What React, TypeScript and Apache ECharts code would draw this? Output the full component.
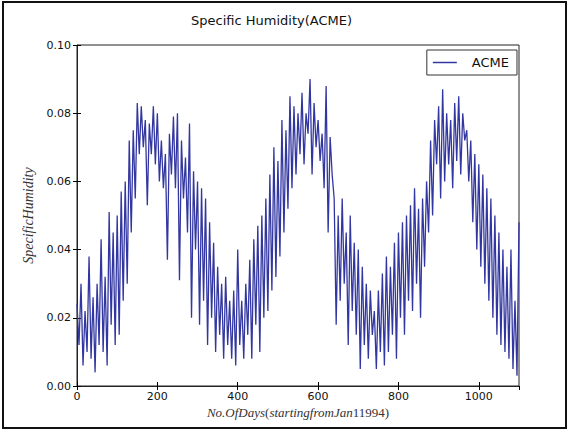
import React, { useEffect, useRef } from "react";
import * as echarts from "echarts";

const TITLE = "Specific Humidity(ACME)";
const SERIES_NAME = "ACME";
const DAY_STEP = 5;
const X_TICKS = [0, 200, 400, 600, 800, 1000];
const Y_TICKS = [0, 0.02, 0.04, 0.06, 0.08, 0.1];

// Specific humidity, one value every 5 days (day 0 .. 1100)
const humidity = [
  // 0-95
  0.024, 0.012, 0.030, 0.006, 0.022, 0.010, 0.038, 0.008, 0.026, 0.004,
  0.030, 0.012, 0.043, 0.010, 0.032, 0.006, 0.051, 0.018, 0.045, 0.012,
  // 100-195
  0.050, 0.015, 0.057, 0.025, 0.060, 0.030, 0.072, 0.045, 0.075, 0.055,
  0.083, 0.068, 0.082, 0.070, 0.078, 0.053, 0.077, 0.068, 0.082, 0.065,
  // 200-295
  0.080, 0.060, 0.072, 0.058, 0.068, 0.037, 0.074, 0.062, 0.079, 0.058,
  0.080, 0.031, 0.072, 0.055, 0.067, 0.045, 0.077, 0.020, 0.063, 0.040,
  // 300-395
  0.060, 0.018, 0.058, 0.025, 0.055, 0.012, 0.048, 0.020, 0.042, 0.010,
  0.035, 0.015, 0.030, 0.008, 0.032, 0.012, 0.025, 0.008, 0.028, 0.006,
  // 400-495
  0.040, 0.012, 0.025, 0.008, 0.030, 0.015, 0.037, 0.008, 0.043, 0.018,
  0.047, 0.010, 0.050, 0.020, 0.055, 0.022, 0.062, 0.028, 0.070, 0.032,
  // 500-595
  0.066, 0.038, 0.078, 0.045, 0.075, 0.052, 0.085, 0.058, 0.082, 0.062,
  0.080, 0.068, 0.086, 0.065, 0.080, 0.074, 0.090, 0.062, 0.083, 0.070,
  // 600-695
  0.078, 0.066, 0.074, 0.058, 0.088, 0.045, 0.073, 0.062, 0.055, 0.018,
  0.050, 0.025, 0.055, 0.030, 0.045, 0.012, 0.050, 0.022, 0.042, 0.015,
  // 700-795
  0.040, 0.005, 0.035, 0.012, 0.030, 0.008, 0.028, 0.015, 0.022, 0.005,
  0.028, 0.010, 0.033, 0.006, 0.038, 0.010, 0.035, 0.015, 0.042, 0.008,
  // 800-895
  0.045, 0.020, 0.048, 0.015, 0.050, 0.025, 0.053, 0.022, 0.058, 0.030,
  0.052, 0.020, 0.055, 0.035, 0.060, 0.045, 0.072, 0.050, 0.078, 0.065,
  // 900-995
  0.082, 0.055, 0.087, 0.060, 0.080, 0.065, 0.078, 0.058, 0.083, 0.066,
  0.085, 0.062, 0.080, 0.072, 0.075, 0.060, 0.072, 0.048, 0.068, 0.040,
  // 1000-1100
  0.065, 0.035, 0.062, 0.030, 0.058, 0.025, 0.055, 0.020, 0.050, 0.015,
  0.045, 0.012, 0.040, 0.010, 0.035, 0.008, 0.040, 0.005, 0.025, 0.003,
  0.048,
];

const LINE_COLOR = "#3236a0";

export default function App() {
  const ref = useRef<HTMLDivElement>(null);
  useEffect(() => {
    if (!ref.current) return;
    const chart = echarts.init(ref.current, undefined, { renderer: "svg" });
    const data = humidity.map((v, i) => [i * DAY_STEP, v]);
    const tickStyle = { show: true, inside: true, length: 4, lineStyle: { color: "#000", width: 1 } };
    const labelFont = { fontFamily: "DejaVu Sans", fontSize: 11, color: "#111" };
    chart.setOption({
      animation: false,
      backgroundColor: "#fff",
      title: {
        text: TITLE,
        left: 186,
        top: 9,
        textStyle: { fontFamily: "DejaVu Sans", fontSize: 13, fontWeight: "normal", color: "#111" },
      },
      legend: {
        data: [{ name: SERIES_NAME, icon: "rect" }],
        right: 53,
        top: 50,
        itemWidth: 24,
        itemHeight: 1.5,
        itemGap: 10,
        padding: [6, 8, 6, 6],
        borderColor: "#333",
        borderWidth: 1,
        borderRadius: 0,
        textStyle: { fontFamily: "DejaVu Sans", fontSize: 13, color: "#111", padding: [0, 0, 0, 10] },
      },
      grid: {
        left: 77,
        right: 51,
        top: 45,
        bottom: 47,
        show: true,
        borderColor: "#222",
        borderWidth: 1,
        backgroundColor: "#fff",
      },
      xAxis: [
        {
          type: "value",
          min: 0,
          max: 1100,
          interval: 200,
          position: "bottom",
          splitLine: { show: false },
          axisLine: { show: true, lineStyle: { color: "#222" } },
          axisTick: tickStyle,
          axisLabel: {
            ...labelFont,
            margin: 5,
            showMaxLabel: false,
            formatter: (v: number) => (X_TICKS.includes(v) ? String(v) : ""),
          },
        },
        {
          type: "value",
          min: 0,
          max: 1100,
          interval: 200,
          position: "top",
          splitLine: { show: false },
          axisLine: { show: false },
          axisTick: tickStyle,
          axisLabel: { show: false },
        },
      ],
      yAxis: [
        {
          type: "value",
          min: 0,
          max: 0.1,
          interval: 0.02,
          position: "left",
          splitLine: { show: false },
          axisLine: { show: true, lineStyle: { color: "#222" } },
          axisTick: tickStyle,
          axisLabel: {
            ...labelFont,
            margin: 6,
            formatter: (v: number) => (Y_TICKS.some((t) => Math.abs(t - v) < 1e-9) ? v.toFixed(2) : ""),
          },
          name: "SpecificHumidity",
          nameLocation: "middle",
          nameGap: 37,
          nameTextStyle: { fontFamily: "Liberation Serif", fontStyle: "italic", fontSize: 14, color: "#333" },
        },
        {
          type: "value",
          min: 0,
          max: 0.1,
          interval: 0.02,
          position: "right",
          splitLine: { show: false },
          axisLine: { show: false },
          axisTick: tickStyle,
          axisLabel: { show: false },
        },
      ],
      graphic: [
        {
          type: "rect",
          shape: { x: 3, y: 2, width: 563, height: 426 },
          style: { fill: "none", stroke: "#111", lineWidth: 2 },
          silent: true,
        },
        {
          type: "text",
          x: 298,
          y: 412,
          style: {
            text: "{it|No.OfDays}{up|(}{it|startingfromJan}{up|11994)}",
            align: "center",
            verticalAlign: "middle",
            rich: {
              it: { fontFamily: "Liberation Serif", fontStyle: "italic", fontSize: 13, fill: "#333" },
              up: { fontFamily: "Liberation Serif", fontSize: 13, fill: "#333" },
            },
          },
          silent: true,
        },
      ],
      series: [
        {
          name: SERIES_NAME,
          type: "line",
          xAxisIndex: 0,
          yAxisIndex: 0,
          data,
          showSymbol: false,
          symbol: "none",
          lineStyle: { color: LINE_COLOR, width: 1.3 },
          itemStyle: { color: LINE_COLOR },
        },
      ],
    });
    return () => chart.dispose();
  }, []);
  return (
    <div
      ref={ref}
      style={{ position: "fixed", left: 0, top: 0, width: 570, height: 433 }}
    />
  );
}
